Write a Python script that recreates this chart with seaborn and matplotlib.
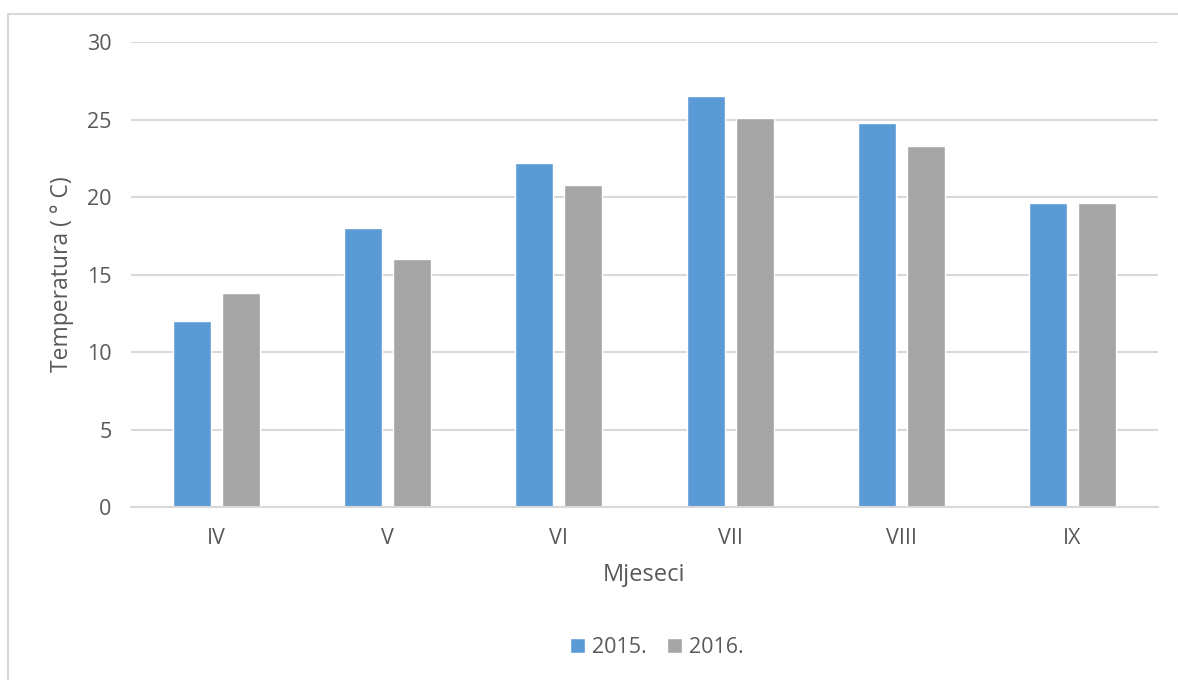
import matplotlib
matplotlib.use("Agg")
import matplotlib.pyplot as plt
import seaborn as sns
import pandas as pd
from matplotlib.patches import Rectangle

months = ["IV", "V", "VI", "VII", "VIII", "IX"]
years = ["2015.", "2016."]
temp_2015 = [12.0, 18.0, 22.2, 26.5, 24.8, 19.6]
temp_2016 = [13.8, 16.0, 20.8, 25.1, 23.3, 19.6]
y_ticks = [0, 5, 10, 15, 20, 25, 30]

df = pd.DataFrame({
    "Mjesec": months * 2,
    "Godina": [years[0]] * len(months) + [years[1]] * len(months),
    "Temp": temp_2015 + temp_2016,
})

sns.set_theme(style="white")
plt.rcParams['font.family'] = ['Open Sans', 'DejaVu Sans']
text_col = "#595959"
grid_col = "#D9D9D9"

fig = plt.figure(figsize=(11.78, 6.8), dpi=100)
ax = fig.add_axes([0.1112, 0.2544, 0.8718, 0.6838])

# outer chart frame (right and bottom edges fall outside the image)
fig.patches.append(Rectangle((0.0065, -0.1), 1.2, 1.08, transform=fig.transFigure,
                             fill=False, edgecolor=grid_col, linewidth=1.5))

palette = {"2015.": "#5B9BD5", "2016.": "#A5A5A5"}
sns.barplot(data=df, x="Mjesec", y="Temp", hue="Godina", palette=palette,
            width=0.573, gap=0.226, saturation=1, ax=ax, legend=True)

ax.set_ylim(0, 30)
ax.set_xlim(-0.5, len(months) - 0.5)
ax.set_yticks(y_ticks)
ax.yaxis.grid(True, color=grid_col, linewidth=1.5)
ax.set_axisbelow(True)
for s in ["top", "right", "left"]:
    ax.spines[s].set_visible(False)
ax.spines["bottom"].set_color(grid_col)
ax.spines["bottom"].set_linewidth(1.5)
ax.tick_params(axis="both", length=0, colors=text_col, labelsize=15.5)
ax.tick_params(axis="y", pad=14)
ax.tick_params(axis="x", pad=15)

ax.set_ylabel("Temperatura ( ° C)", fontsize=16.5, color=text_col, labelpad=9)
ax.set_xlabel("Mjeseci", fontsize=17, color=text_col, labelpad=10)

ax.legend(loc="center", bbox_to_anchor=(0.512, -0.303), ncol=2, frameon=False,
          fontsize=15.5, labelcolor=text_col, handlelength=0.7, handleheight=0.7,
          handletextpad=0.3, columnspacing=0.95)

fig.savefig("out.png", dpi=100)
